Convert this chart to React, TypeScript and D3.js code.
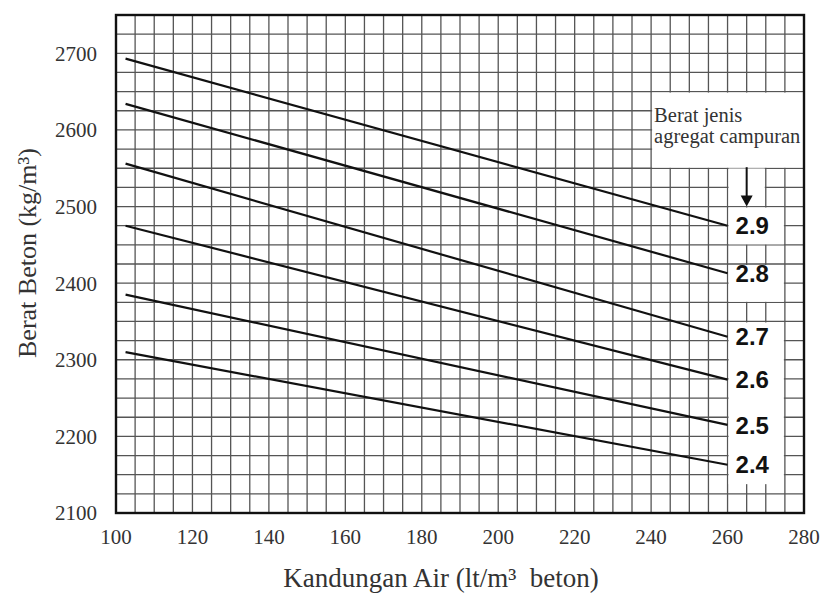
import React from "react";
import * as d3 from "d3";

const W = 825;
const H = 594;

// Data
const seriesLabels = ["2.9", "2.8", "2.7", "2.6", "2.5", "2.4"];
const waterStart = 102.5;
const waterEnd = 260;
const densityAtStart = [2693, 2634, 2556, 2475, 2385, 2310];
const densityAtEnd = [2475, 2413, 2330, 2274, 2215, 2163];

const xTicks = [100, 120, 140, 160, 180, 200, 220, 240, 260, 280];
const yTicks = [2100, 2200, 2300, 2400, 2500, 2600, 2700];

const xTitle = "Kandungan Air (lt/m\u00B3  beton)";
const yTitle = "Berat Beton (kg/m\u00B3)";
const legendLines = ["Berat jenis", "agregat campuran"];

export default function App() {
  const margin = { left: 116, right: 21, top: 15, bottom: 81 };
  const x = d3.scaleLinear().domain([100, 280]).range([margin.left, W - margin.right]);
  const y = d3.scaleLinear().domain([2100, 2750]).range([H - margin.bottom, margin.top]);

  const vGrid = d3.range(105, 280, 5);
  const hGrid = d3.range(2125, 2750, 25);

  const line = d3
    .line<[number, number]>()
    .x((d) => x(d[0]))
    .y((d) => y(d[1]));

  // white cut-outs (data units) around legend / labels
  const whites: [number, number, number, number][] = [
    [240, 280, 2550, 2650],
    [260, 270, 2500, 2551],
    [260, 275, 2450, 2500],
    [260, 275, 2375, 2425],
    [260, 275, 2137, 2350],
  ];

  const serif = "'Liberation Serif', 'Times New Roman', serif";
  const sans = "'Liberation Sans', Arial, sans-serif";

  return (
    <div style={{ position: "fixed", left: 0, top: 0 }}>
      <svg width={W} height={H} style={{ display: "block", background: "#fff" }}>
        <g>
          {vGrid.map((v) => (
            <line key={"v" + v} x1={x(v)} x2={x(v)} y1={y(2100)} y2={y(2750)} stroke="#555" strokeWidth={1.3} />
          ))}
          {hGrid.map((v) => (
            <line key={"h" + v} x1={x(100)} x2={x(280)} y1={y(v)} y2={y(v)} stroke="#555" strokeWidth={1.3} />
          ))}
        </g>
        {whites.map((r, i) => (
          <rect
            key={"w" + i}
            x={x(r[0]) + 1}
            width={x(r[1]) - x(r[0]) - 2}
            y={y(r[3]) + 1}
            height={y(r[2]) - y(r[3]) - 1.5}
            fill="#fff"
          />
        ))}
        {seriesLabels.map((s, i) => (
          <path
            key={"l" + s}
            d={line([
              [waterStart, densityAtStart[i]],
              [waterEnd, densityAtEnd[i]],
            ]) as string}
            fill="none"
            stroke="#111"
            strokeWidth={2.2}
          />
        ))}
        {seriesLabels.map((s, i) => (
          <text
            key={"t" + s}
            x={x(waterEnd) + 8}
            y={y(densityAtEnd[i])}
            dy="0.36em"
            fontFamily={sans}
            fontWeight="bold"
            fontSize={24}
            fill="#111"
          >
            {s}
          </text>
        ))}
        {/* arrow */}
        <line x1={x(265)} x2={x(265)} y1={y(2550) - 1} y2={y(2500) - 8} stroke="#111" strokeWidth={2} />
        <path
          d={`M${x(265) - 6},${y(2500) - 11} L${x(265) + 6},${y(2500) - 11} L${x(265)},${y(2500)} Z`}
          fill="#111"
        />
        {/* legend text */}
        <text x={x(240) + 3} y={y(2650) + 30} fontFamily={serif} fontSize={20.5} fill="#333">
          {legendLines[0]}
        </text>
        <text x={x(240) + 3} y={y(2650) + 51} fontFamily={serif} fontSize={20.5} fill="#333">
          {legendLines[1]}
        </text>
        {/* frame */}
        <rect
          x={x(100)}
          y={y(2750)}
          width={x(280) - x(100)}
          height={y(2100) - y(2750)}
          fill="none"
          stroke="#111"
          strokeWidth={2.4}
        />
        {/* tick labels */}
        {yTicks.map((v) => (
          <text key={"yt" + v} x={97} y={y(v)} dy="0.35em" textAnchor="end" fontFamily={serif} fontSize={21} fill="#333">
            {v}
          </text>
        ))}
        {xTicks.map((v) => (
          <text key={"xt" + v} x={x(v)} y={y(2100) + 24} dy="0.35em" textAnchor="middle" fontFamily={serif} fontSize={21} fill="#333">
            {v}
          </text>
        ))}
        {/* axis titles */}
        <text x={441} y={587} textAnchor="middle" fontFamily={serif} fontSize={27} fill="#333" style={{ whiteSpace: "pre" }}>
          {xTitle}
        </text>
        <text
          transform={`translate(36,${253}) rotate(-90)`}
          textAnchor="middle"
          fontFamily={serif}
          fontSize={26}
          fill="#333"
        >
          {yTitle}
        </text>
      </svg>
    </div>
  );
}
